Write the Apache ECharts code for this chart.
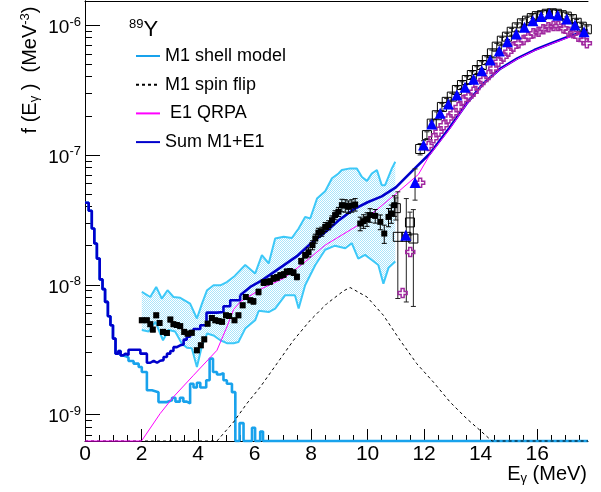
<!DOCTYPE html>
<html>
<head>
<meta charset="utf-8">
<script src="https://cdn.jsdelivr.net/npm/echarts@6.0.0/dist/echarts.min.js"></script>
<style>
  html, body { margin: 0; padding: 0; background: #fff; }
  #chart { width: 601px; height: 492px; }
</style>
</head>
<body>
<div id="chart"></div>
<script>
const FONT = '"Liberation Sans", Arial, Helvetica, sans-serif';

// axis ranges and tick labels
const X_MIN = 0, X_MAX = 17.8;
const Y_MIN = 6.27e-10, Y_MAX = 1.53e-6;
const X_TICKS = [0, 2, 4, 6, 8, 10, 12, 14, 16];
const Y_DECADES = [-9, -8, -7, -6];

// M1 shell model histogram (bin left edges in MeV, f in MeV^-3, 0 = empty bin)
const m1E = [0, 0.13, 0.24, 0.33, 0.42, 0.52, 0.62, 0.71, 0.81, 0.90,
  0.99, 1.08, 1.18, 1.26, 1.35, 1.44, 1.54, 1.72, 1.90, 2.01,
  2.19, 2.37, 2.60, 2.90, 3.08, 3.20, 3.36, 3.48, 3.60, 3.72,
  3.84, 3.96, 4.08, 4.29, 4.41, 4.53, 4.67, 4.79, 4.90, 5.02,
  5.20, 5.32, 5.47, 5.61, 5.91, 6.02, 6.20, 6.30, 17.8];
const m1F = [4.28e-8, 3.71e-8, 2.71e-8, 2.08e-8, 1.59e-8, 1.10e-8, 9.25e-9, 7.38e-9, 5.73e-9, 4.88e-9,
  3.85e-9, 2.95e-9, 3.09e-9, 2.86e-9, 2.82e-9, 2.75e-9, 2.59e-9, 2.47e-9, 2.33e-9, 2.13e-9,
  1.54e-9, 1.49e-9, 1.25e-9, 1.29e-9, 1.35e-9, 1.26e-9, 1.35e-9, 1.26e-9, 1.22e-9, 1.73e-9,
  1.62e-9, 1.76e-9, 1.62e-9, 1.84e-9, 2.70e-9, 2.13e-9, 2.04e-9, 2.09e-9, 1.84e-9, 1.73e-9,
  1.49e-9, 0, 8.61e-10, 0, 7.94e-10, 0, 7.41e-10, 0, 0];

// Sum M1+E1, low-energy histogram part
const sumLowE = [0, 0.13, 0.24, 0.33, 0.42, 0.52, 0.62, 0.71, 0.81, 0.90,
  0.99, 1.08, 1.18, 1.26, 1.35, 1.44, 1.54, 1.96, 2.19, 2.31,
  2.43, 2.55, 2.66, 2.78, 2.90, 3.02, 3.13, 3.25, 3.37, 3.49,
  3.60, 3.72, 3.84, 3.96, 4.08, 4.30, 4.67, 4.90, 5.14, 5.49];
const sumLowF = [4.28e-8, 3.71e-8, 2.71e-8, 2.08e-8, 1.59e-8, 1.10e-8, 9.25e-9, 7.38e-9, 5.73e-9, 4.88e-9,
  3.85e-9, 2.95e-9, 3.09e-9, 2.86e-9, 2.95e-9, 2.88e-9, 3.16e-9, 2.95e-9, 2.51e-9, 2.60e-9,
  2.51e-9, 2.60e-9, 2.63e-9, 2.78e-9, 2.95e-9, 3.09e-9, 3.31e-9, 3.42e-9, 3.47e-9, 3.78e-9,
  3.98e-9, 4.41e-9, 4.57e-9, 4.57e-9, 4.88e-9, 6.10e-9, 6.17e-9, 6.84e-9, 7.60e-9, 8.32e-9];
// Sum M1+E1, high-energy part (fine bins)
const sumHighE = [5.49, 5.85, 6.26, 6.9, 7.5, 8.0, 8.5, 9.0, 9.5, 10.0, 10.5, 11.0,
  11.6, 12.2, 12.9, 13.5, 14.1, 14.7, 15.3, 15.9, 16.5, 17.05, 17.64, 17.8];
const sumHighF = [8.32e-9, 9.62e-9, 1.08e-8, 1.35e-8, 1.66e-8, 2.09e-8, 2.54e-8, 3.16e-8, 3.80e-8, 4.32e-8, 4.79e-8, 5.62e-8,
  7.59e-8, 1.02e-7, 1.62e-7, 2.48e-7, 3.55e-7, 4.62e-7, 5.53e-7, 6.41e-7, 7.24e-7, 8.04e-7, 8.87e-7, 9.12e-7];

// E1 QRPA
const e1E = [0, 2.0, 2.66, 3.13, 3.84, 4.67, 5.02, 5.26, 5.5, 6.26, 7.03, 7.79, 8.5, 9.67,
  11.0, 11.8, 12.2, 12.9, 13.5, 14.1, 14.7, 15.3, 15.9, 16.5, 17.05, 17.64, 17.8];
const e1F = [0, 0, 1.02e-9, 1.37e-9, 2.01e-9, 3.13e-9, 4.73e-9, 6.46e-9, 7.41e-9, 9.35e-9, 1.12e-8, 1.50e-8, 2.02e-8, 2.88e-8,
  5.01e-8, 7.08e-8, 1.00e-7, 1.58e-7, 2.45e-7, 3.51e-7, 4.57e-7, 5.47e-7, 6.34e-7, 7.16e-7, 7.94e-7, 8.77e-7, 9.02e-7];

// M1 spin flip
const spinE = [0, 4.67, 5.26, 5.73, 6.2, 6.79, 7.38, 7.97, 8.56, 9.15, 9.38,
  9.98, 10.56, 11.15, 11.74, 12.33, 12.92, 13.51, 13.98, 14.4, 17.8];
const spinF = [0, 0, 8.79e-10, 1.22e-9, 1.63e-9, 2.47e-9, 3.74e-9, 5.33e-9, 7.16e-9, 8.97e-9, 9.53e-9,
  8.05e-9, 5.82e-9, 3.74e-9, 2.47e-9, 1.78e-9, 1.25e-9, 9.31e-10, 7.57e-10, 0, 0];

// shell model uncertainty band
const bandUpE = [2.01, 2.31, 2.52, 2.72, 2.92, 3.13, 3.37, 3.72, 3.96, 4.14,
  4.32, 4.55, 4.79, 5.02, 5.3, 5.67, 6.02, 6.26, 6.5, 6.73,
  7.03, 7.32, 7.56, 7.79, 7.97, 8.21, 8.5, 8.74, 8.97, 9.09,
  9.38, 9.62, 9.8, 9.98, 10.15, 10.33, 10.5, 10.62, 10.86, 10.98];
const bandUpF = [8.81e-9, 8.05e-9, 9.62e-9, 7.83e-9, 9.08e-9, 8.05e-9, 7.94e-9, 7.16e-9, 5.50e-9, 7.16e-9,
  9.08e-9, 9.91e-9, 9.91e-9, 1.05e-8, 1.17e-8, 1.42e-8, 1.22e-8, 1.69e-8, 1.46e-8, 2.27e-8,
  2.34e-8, 2.29e-8, 2.71e-8, 3.33e-8, 3.24e-8, 4.61e-8, 5.25e-8, 6.61e-8, 7.19e-8, 7.64e-8,
  7.87e-8, 7.87e-8, 6.76e-8, 6.31e-8, 7.19e-8, 7.64e-8, 5.85e-8, 5.85e-8, 7.87e-8, 8.85e-8];
const bandLoE = [2.01, 2.25, 2.49, 2.76, 2.96, 3.19, 3.43, 3.61, 3.78, 3.96,
  4.14, 4.32, 4.55, 4.79, 5.02, 5.26, 5.43, 5.67, 6.02, 6.15,
  6.5, 6.73, 7.08, 7.43, 7.56, 7.79, 8.15, 8.5, 8.85, 9.21,
  9.44, 9.67, 9.91, 10.15, 10.38, 10.56, 10.74, 10.98];
const bandLoF = [4.48e-9, 4.37e-9, 5.18e-9, 3.74e-9, 4.48e-9, 4.37e-9, 3.52e-9, 3.28e-9, 3.24e-9, 2.33e-9,
  3.39e-9, 4.21e-9, 4.07e-9, 3.74e-9, 3.55e-9, 3.55e-9, 3.63e-9, 4.60e-9, 5.33e-9, 6.31e-9,
  6.17e-9, 6.56e-9, 8.30e-9, 8.30e-9, 6.56e-9, 9.91e-9, 1.42e-8, 1.86e-8, 2.00e-8, 1.91e-8,
  2.09e-8, 1.59e-8, 1.70e-8, 1.55e-8, 1.42e-8, 1.02e-8, 1.35e-8, 1.51e-8];

// Oslo data (filled squares), relative errors
const sqE = [2.01, 2.19, 2.31, 2.40, 2.52, 2.64, 2.76, 2.90, 3.02, 3.13,
  3.25, 3.37, 3.51, 3.63, 3.78, 3.96, 4.10, 4.22, 4.34, 4.49,
  4.61, 4.73, 4.85, 4.99, 5.10, 5.29, 5.43, 5.58, 5.69, 5.85,
  5.96, 6.14, 6.32, 6.44, 6.55, 6.67, 6.79, 6.91, 7.03, 7.14,
  7.26, 7.38, 7.50, 7.65, 7.79, 7.91, 8.05, 8.15, 8.26, 8.38,
  8.50, 8.62, 8.74, 8.85, 8.97, 9.09, 9.21, 9.32, 9.44, 9.56,
  9.74, 9.86, 9.98, 10.09, 10.27, 10.45, 10.59, 10.74, 10.84, 10.95];
const sqF = [5.33e-9, 5.33e-9, 4.97e-9, 4.52e-9, 5.82e-9, 5.08e-9, 4.34e-9, 4.26e-9, 5.40e-9, 4.97e-9,
  4.90e-9, 4.80e-9, 4.34e-9, 4.21e-9, 4.27e-9, 3.13e-9, 3.42e-9, 3.80e-9, 5.02e-9, 5.55e-9,
  5.33e-9, 5.25e-9, 5.19e-9, 5.82e-9, 5.75e-9, 5.33e-9, 5.82e-9, 6.95e-9, 8.05e-9, 7.60e-9,
  7.46e-9, 8.81e-9, 1.04e-8, 1.05e-8, 1.06e-8, 1.12e-8, 1.14e-8, 1.18e-8, 1.20e-8, 1.26e-8,
  1.27e-8, 1.24e-8, 1.15e-8, 1.52e-8, 1.69e-8, 1.78e-8, 2.02e-8, 2.27e-8, 2.52e-8, 2.57e-8,
  2.79e-8, 2.88e-8, 3.14e-8, 3.44e-8, 3.65e-8, 4.10e-8, 4.07e-8, 3.98e-8, 4.07e-8, 4.15e-8,
  2.96e-8, 3.09e-8, 3.20e-8, 3.44e-8, 3.39e-8, 3.05e-8, 2.48e-8, 3.33e-8, 3.54e-8, 4.10e-8];
const sqErr = [0.04, 0.04, 0.04, 0.04, 0.04, 0.04, 0.04, 0.04, 0.04, 0.04,
  0.04, 0.04, 0.04, 0.04, 0.04, 0.04, 0.04, 0.04, 0.04, 0.04,
  0.04, 0.04, 0.04, 0.04, 0.04, 0.04, 0.04, 0.04, 0.04, 0.04,
  0.05, 0.05, 0.05, 0.05, 0.05, 0.05, 0.05, 0.05, 0.05, 0.05,
  0.05, 0.05, 0.05, 0.05, 0.05, 0.08, 0.08, 0.08, 0.08, 0.08,
  0.08, 0.08, 0.08, 0.08, 0.08, 0.11, 0.11, 0.11, 0.11, 0.11,
  0.12, 0.12, 0.12, 0.12, 0.12, 0.13, 0.16, 0.16, 0.16, 0.18];

// photoabsorption data (open squares), relative errors down / up
const opE = [11.00, 11.07, 11.37, 11.50, 11.62, 11.86, 12.10, 12.27, 12.45, 12.63,
  12.80, 12.98, 13.16, 13.34, 13.51, 13.69, 13.87, 14.04, 14.22, 14.40,
  14.57, 14.75, 14.93, 15.10, 15.28, 15.46, 15.64, 15.81, 15.99, 16.17,
  16.34, 16.52, 16.70, 16.87, 17.05, 17.23, 17.40, 17.58, 17.76];
const opF = [3.89e-8, 2.34e-8, 2.34e-8, 3.02e-8, 2.27e-8, 1.11e-7, 1.42e-7, 1.74e-7, 2.02e-7, 2.34e-7,
  2.56e-7, 2.81e-7, 3.16e-7, 3.45e-7, 3.77e-7, 4.12e-7, 4.50e-7, 4.92e-7, 5.37e-7, 6.05e-7,
  6.81e-7, 7.57e-7, 8.13e-7, 8.87e-7, 9.59e-7, 1.03e-6, 1.08e-6, 1.13e-6, 1.17e-6, 1.19e-6,
  1.22e-6, 1.23e-6, 1.22e-6, 1.19e-6, 1.16e-6, 1.11e-6, 1.04e-6, 9.70e-7, 9.27e-7];
const opErrDn = [0.19, 0.665, 0.685, 0.2, 0.70, 0.1, 0.06, 0.06, 0.06, 0.06,
  0.06, 0.06, 0.06, 0.06, 0.06, 0.06, 0.06, 0.06, 0.06, 0.06,
  0.06, 0.06, 0.06, 0.06, 0.06, 0.06, 0.06, 0.06, 0.06, 0.06,
  0.06, 0.06, 0.06, 0.06, 0.06, 0.06, 0.06, 0.06, 0.06];
const opErrUp = [0.20, 1.22, 0.97, 0.2, 0.67, 0.1, 0.06, 0.06, 0.06, 0.06,
  0.06, 0.06, 0.06, 0.06, 0.06, 0.06, 0.06, 0.06, 0.06, 0.06,
  0.06, 0.06, 0.06, 0.06, 0.06, 0.06, 0.06, 0.06, 0.06, 0.06,
  0.06, 0.06, 0.06, 0.06, 0.06, 0.06, 0.06, 0.06, 0.06];

// blue triangles
const triE = [11.35, 11.68, 11.98, 12.27, 12.57, 12.86, 13.16, 13.45, 13.75, 14.04, 14.34,
  14.66, 14.95, 15.26, 15.55, 15.85, 16.14, 16.43, 16.73, 17.05, 17.34, 17.66];
const triF = [2.41e-8, 6.14e-8, 1.19e-7, 1.73e-7, 2.09e-7, 2.46e-7, 2.89e-7, 3.31e-7, 3.82e-7, 4.45e-7, 5.37e-7,
  6.31e-7, 7.43e-7, 8.53e-7, 9.59e-7, 1.08e-6, 1.16e-6, 1.22e-6, 1.19e-6, 1.11e-6, 1.00e-6, 8.87e-7];
const triErr = [0, 0.27, 0.08, 0.04, 0.04, 0.04, 0.04, 0.04, 0.04, 0.04, 0.04,
  0.04, 0.04, 0.04, 0.04, 0.04, 0.04, 0.04, 0.04, 0.04, 0.04, 0.04];

// purple open crosses
const crE = [11.24, 11.51, 11.86, 12.16, 12.33, 12.51, 12.69, 12.86, 13.04, 13.22,
  13.39, 13.57, 13.75, 13.92, 14.10, 14.28, 14.45, 14.63, 14.81, 14.98,
  15.16, 15.34, 15.52, 15.69, 15.87, 16.05, 16.22, 16.40, 16.58, 16.75,
  16.93, 17.11, 17.28, 17.46, 17.64, 17.76];
const crF = [8.65e-9, 1.79e-8, 6.10e-8, 1.17e-7, 1.34e-7, 1.51e-7, 1.69e-7, 1.91e-7, 2.09e-7, 2.34e-7,
  2.64e-7, 2.81e-7, 3.06e-7, 3.45e-7, 3.77e-7, 4.12e-7, 4.63e-7, 5.21e-7, 5.70e-7, 6.22e-7,
  6.81e-7, 7.23e-7, 7.66e-7, 8.13e-7, 8.63e-7, 8.87e-7, 9.27e-7, 9.59e-7, 9.82e-7, 9.82e-7,
  9.42e-7, 8.87e-7, 8.63e-7, 8.13e-7, 7.66e-7, 7.23e-7];

// ---- helpers: the y axis is a value axis in log10 space
const LOG_MIN = Math.log10(Y_MIN);
const LOG_MAX = Math.log10(Y_MAX);
const L = v => (v > 0 ? Math.log10(v) : LOG_MIN); // empty bins sit on the x axis, like ROOT
const pts = (xs, fs) => xs.map((x, i) => [x, L(fs[i])]);
const errPts = (xs, fs, dn, up) => xs.map((x, i) => [x, L(fs[i] * (1 - dn[i])), L(fs[i] * (1 + up[i]))]);

const xMinor = [];
for (let x = 0.5; x < X_MAX; x += 0.5) if (X_TICKS.indexOf(x) < 0) xMinor.push(x);
const yMinor = [];
for (let n = -10; n <= -6; n++) {
  for (let k = 2; k <= 9; k++) {
    const v = n + Math.log10(k);
    if (v > LOG_MIN && v < LOG_MAX) yMinor.push(v);
  }
}

// dotted fill for the band
const pat = document.createElement('canvas');
pat.width = 2; pat.height = 2;
const pctx = pat.getContext('2d');
pctx.fillStyle = 'rgba(51,190,245,0.42)';
pctx.fillRect(0, 0, 1, 1);
pctx.fillRect(1, 1, 1, 1);

function errorBars(data, color) {
  return {
    type: 'custom', silent: true, z: 5,
    data: data,
    encode: { x: 0, y: [1, 2] },
    renderItem: (params, api) => {
      const x = api.value(0);
      const a = api.coord([x, api.value(1)]);
      const b = api.coord([x, api.value(2)]);
      const c = 2.5;
      const st = { stroke: color, lineWidth: 1 };
      return {
        type: 'group', children: [
          { type: 'line', shape: { x1: a[0], y1: a[1], x2: b[0], y2: b[1] }, style: st },
          { type: 'line', shape: { x1: a[0] - c, y1: a[1], x2: a[0] + c, y2: a[1] }, style: st },
          { type: 'line', shape: { x1: b[0] - c, y1: b[1], x2: b[0] + c, y2: b[1] }, style: st }
        ]
      };
    }
  };
}

const frameAxis = { show: true, lineStyle: { color: '#000', width: 1 } };

const chart = echarts.init(document.getElementById('chart'));
chart.setOption({
  animation: false,
  backgroundColor: '#fff',
  grid: { left: 85, right: 13, top: 1, bottom: 51 },
  legend: {
    orient: 'vertical', left: 135, top: 47, padding: 0,
    itemWidth: 24, itemHeight: 14, itemGap: 10.7,
    data: ['M1 shell model', 'M1 spin flip', ' E1 QRPA', 'Sum M1+E1'],
    itemStyle: { opacity: 0 },
    textStyle: { fontSize: 18, fontFamily: FONT, color: '#000', lineHeight: 18 }
  },
  xAxis: [{
    type: 'value', min: X_MIN, max: X_MAX, position: 'bottom', z: 0,
    axisLine: frameAxis,
    splitLine: { show: false },
    axisTick: { show: true, inside: true, length: 12, customValues: X_TICKS, lineStyle: { color: '#000' } },
    axisLabel: { customValues: X_TICKS, fontSize: 21, fontFamily: FONT, color: '#000', margin: 3 }
  }, {
    type: 'value', min: X_MIN, max: X_MAX, position: 'bottom', z: 0,
    axisLine: { show: false }, splitLine: { show: false }, axisLabel: { show: false },
    axisTick: { show: true, inside: true, length: 6, customValues: xMinor, lineStyle: { color: '#000' } }
  }, {
    type: 'value', min: X_MIN, max: X_MAX, position: 'top', z: 0,
    axisLine: frameAxis, splitLine: { show: false }, axisLabel: { show: false }, axisTick: { show: false }
  }],
  yAxis: [{
    type: 'value', min: LOG_MIN, max: LOG_MAX, position: 'left', z: 0,
    axisLine: frameAxis,
    splitLine: { show: false },
    axisTick: { show: true, inside: true, length: 15, customValues: Y_DECADES, lineStyle: { color: '#000' } },
    axisLabel: {
      customValues: Y_DECADES, margin: 4, padding: [5, 0, 0, 0],
      formatter: v => '{b|10}{s|' + v + '}',
      rich: {
        b: { fontSize: 19, fontFamily: FONT, color: '#000', lineHeight: 24 },
        s: { fontSize: 13, fontFamily: FONT, color: '#000', lineHeight: 12, verticalAlign: 'top' }
      }
    }
  }, {
    type: 'value', min: LOG_MIN, max: LOG_MAX, position: 'left', z: 0,
    axisLine: { show: false }, splitLine: { show: false }, axisLabel: { show: false },
    axisTick: { show: true, inside: true, length: 7, customValues: yMinor, lineStyle: { color: '#000' } }
  }, {
    type: 'value', min: LOG_MIN, max: LOG_MAX, position: 'right', z: 0,
    axisLine: frameAxis, splitLine: { show: false }, axisLabel: { show: false }, axisTick: { show: false }
  }],
  graphic: [{
    type: 'text', x: 129, y: 18,
    style: {
      text: '{s|89}{y|Y}',
      rich: {
        s: { fontSize: 13, fontFamily: FONT, fill: '#000', lineHeight: 13, verticalAlign: 'top' },
        y: { fontSize: 22, fontFamily: FONT, fill: '#000', lineHeight: 24 }
      }
    }
  }, {
    type: 'text', x: 30, y: 70, rotation: Math.PI / 2,
    style: {
      text: '{t|f (E}{sub|γ}{t| )  (MeV}{sup|-3}{t|)}',
      align: 'center', verticalAlign: 'middle',
      rich: {
        t: { fontSize: 20, fontFamily: FONT, fill: '#000', lineHeight: 22 },
        sub: { fontSize: 13, fontFamily: FONT, fill: '#000', lineHeight: 13, verticalAlign: 'bottom' },
        sup: { fontSize: 13, fontFamily: FONT, fill: '#000', lineHeight: 13, verticalAlign: 'top' }
      }
    }
  }, {
    type: 'text', x: 587, y: 474,
    style: {
      text: '{t|E}{sub|γ}{t| (MeV)}',
      align: 'right', verticalAlign: 'middle',
      rich: {
        t: { fontSize: 20, fontFamily: FONT, fill: '#000', lineHeight: 22 },
        sub: { fontSize: 13, fontFamily: FONT, fill: '#000', lineHeight: 13, verticalAlign: 'bottom' }
      }
    }
  }],
  series: [
    {
      name: 'band', type: 'custom', silent: true, z: 1,
      data: [[bandUpE[0], L(bandUpF[0])]],
      encode: { x: 0, y: 1 },
      renderItem: (params, api) => {
        const up = bandUpE.map((x, i) => api.coord([x, L(bandUpF[i])]));
        const lo = bandLoE.map((x, i) => api.coord([x, L(bandLoF[i])])).reverse();
        return { type: 'polygon', shape: { points: up.concat(lo) }, style: { fill: { image: pat, repeat: 'repeat' } } };
      }
    },
    { name: 'band up', type: 'line', silent: true, z: 2, symbol: 'none', data: pts(bandUpE, bandUpF),
      lineStyle: { color: '#3cc8f8', width: 2 } },
    { name: 'band low', type: 'line', silent: true, z: 2, symbol: 'none', data: pts(bandLoE, bandLoF),
      lineStyle: { color: '#3cc8f8', width: 2 } },
    { name: 'M1 shell model', type: 'line', step: 'end', silent: true, z: 3, symbol: 'none', clip: false,
      data: pts(m1E, m1F), color: '#18a2ec', lineStyle: { color: '#18a2ec', width: 2.6 } },
    { name: 'M1 spin flip', type: 'line', silent: true, z: 4, symbol: 'none', clip: false,
      data: pts(spinE, spinF), color: '#000', lineStyle: { color: '#000', width: 1, type: [3, 3] } },
    { name: 'Sum M1+E1', type: 'line', step: 'end', silent: true, z: 3, symbol: 'none',
      data: pts(sumLowE, sumLowF), color: '#0000cc', lineStyle: { color: '#0000cc', width: 2.6 } },
    { name: 'Sum M1+E1', type: 'line', silent: true, z: 3, symbol: 'none',
      data: pts(sumHighE, sumHighF), color: '#0000cc', lineStyle: { color: '#0000cc', width: 2.6 } },
    { name: ' E1 QRPA', type: 'line', silent: true, z: 4, symbol: 'none', clip: false,
      data: pts(e1E, e1F), color: '#ff00ff', lineStyle: { color: '#ff00ff', width: 1 } },
    errorBars(errPts(sqE, sqF, sqErr, sqErr), '#000'),
    errorBars(errPts(opE, opF, opErrDn, opErrUp), '#222'),
    errorBars(errPts(triE, triF, triErr, triErr), '#222'),
    { name: 'Oslo', type: 'scatter', silent: true, z: 6, symbol: 'rect', symbolSize: 6,
      data: pts(sqE, sqF), itemStyle: { color: '#000', opacity: 1 } },
    { name: 'photo', type: 'scatter', silent: true, z: 6, symbol: 'rect', symbolSize: 9,
      data: pts(opE, opF), itemStyle: { color: 'rgba(255,255,255,0)', borderColor: '#000', borderWidth: 1, opacity: 1 } },
    { name: 'cross', type: 'scatter', silent: true, z: 6,
      symbol: 'path://M3,0 H6 V3 H9 V6 H6 V9 H3 V6 H0 V3 H3 Z', symbolSize: 9,
      data: pts(crE, crF), itemStyle: { color: 'rgba(255,255,255,0)', borderColor: '#a0289f', borderWidth: 1.5, opacity: 1 } },
    { name: 'tri', type: 'scatter', silent: true, z: 7, symbol: 'triangle', symbolSize: 11,
      data: pts(triE, triF), itemStyle: { color: '#0000ff', opacity: 1 } }
  ]
});
</script>
</body>
</html>
